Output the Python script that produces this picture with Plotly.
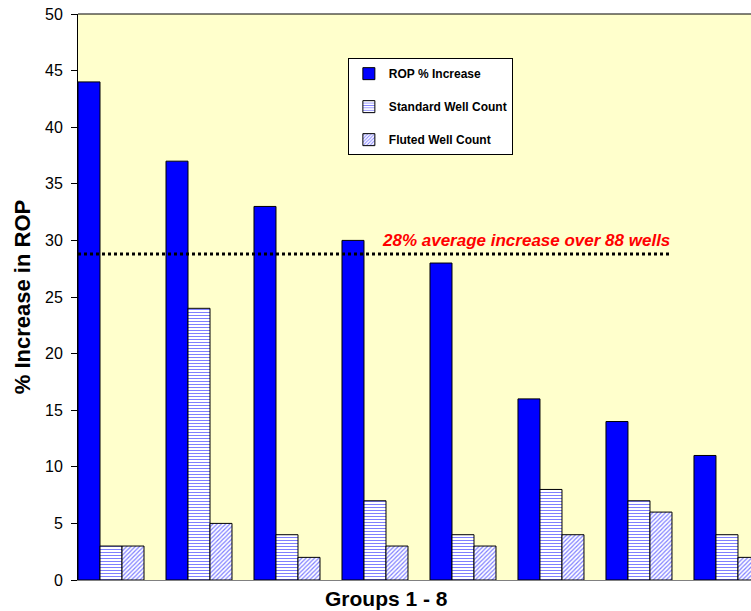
import plotly.graph_objects as go

# Eight drilling groups
groups = [1, 2, 3, 4, 5, 6, 7, 8]
rop_increase = [44, 37, 33, 30, 28, 16, 14, 11]
standard_wells = [3, 24, 4, 7, 4, 8, 7, 4]
fluted_wells = [3, 5, 2, 3, 3, 4, 6, 2]
avg_line_value = 28.8
avg_label = "28% average increase over 88 wells"
y_ticks = [0, 5, 10, 15, 20, 25, 30, 35, 40, 45, 50]

x = [g - 1 for g in groups]
FONT = "Liberation Sans, Arial, sans-serif"

fig = go.Figure()
fig.add_trace(go.Bar(
    x=x, y=rop_increase, name="ROP % Increase",
    marker=dict(color="#0000FF", line=dict(color="black", width=1)),
    legendgroup="a",
))
fig.add_trace(go.Bar(
    x=x, y=standard_wells, name="Standard Well Count",
    marker=dict(color="white", line=dict(color="black", width=1),
                pattern=dict(shape="-", fgcolor="#0000FF", bgcolor="white",
                             size=3, solidity=0.35)),
    legendgroup="b",
))
fig.add_trace(go.Bar(
    x=x, y=fluted_wells, name="Fluted Well Count",
    marker=dict(color="white", line=dict(color="black", width=1),
                pattern=dict(shape="/", fgcolor="#0000FF", bgcolor="white",
                             size=3, solidity=0.4)),
    legendgroup="c",
))

# dotted average line with its label
fig.add_shape(type="line", xref="x", yref="y", x0=-0.375, x1=6.375,
              y0=avg_line_value, y1=avg_line_value,
              line=dict(color="black", width=3, dash="dot"))
fig.add_annotation(x=6.375, y=avg_line_value, xref="x", yref="y",
                   xanchor="right", yanchor="bottom", yshift=2,
                   text="<b><i>" + avg_label + "</i></b>", showarrow=False,
                   font=dict(family=FONT, size=17, color="#FF0000"))
# x-axis title below the category axis
fig.add_annotation(x=0.459, y=0, xref="paper", yref="paper",
                   xanchor="center", yanchor="middle", yshift=-18,
                   text="<b>Groups 1 - 8</b>", showarrow=False,
                   font=dict(family=FONT, size=21, color="black"))
# top border of the plot area
fig.add_shape(type="line", xref="paper", yref="paper", x0=0, x1=1, y0=1, y1=1,
              line=dict(color="black", width=1))

fig.update_layout(
    width=751, height=611,
    margin=dict(l=78, r=0, t=14, b=31),
    paper_bgcolor="white", plot_bgcolor="#FFFFCC",
    barmode="group", bargap=0.25, bargroupgap=0,
    font=dict(family=FONT, color="black"),
    legend=dict(x=0.401, y=0.922, xanchor="left", yanchor="top",
                bgcolor="white", bordercolor="black", borderwidth=1,
                font=dict(family=FONT, size=12, color="black", weight="bold"),
                traceorder="grouped", tracegroupgap=14,
                itemwidth=30),
    showlegend=True,
)
fig.update_xaxes(range=[-0.375, 7.273], showticklabels=False, ticks="",
                 showgrid=False, zeroline=False, showline=True,
                 linecolor="#808080", linewidth=1)
fig.update_yaxes(range=[0, 50], tickvals=y_ticks, showgrid=False, zeroline=False,
                 showline=True, linecolor="black", linewidth=1,
                 ticks="outside", ticklen=6, tickcolor="black",
                 ticklabelstandoff=5,
                 tickfont=dict(family=FONT, size=16, color="black"),
                 title=dict(text="<b>% Increase in ROP</b>", standoff=8,
                            font=dict(family=FONT, size=22, color="black")))

fig.write_html("out.html")
